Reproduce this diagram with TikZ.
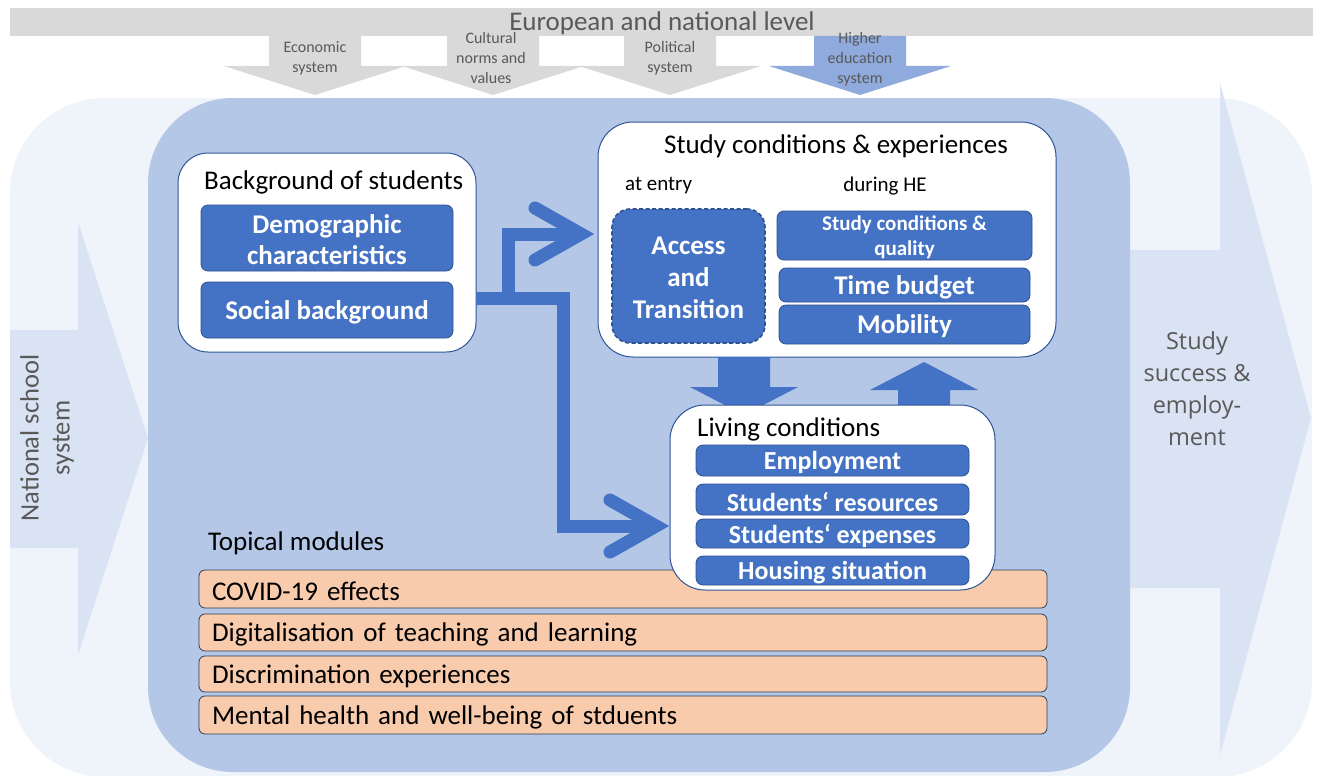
\documentclass[tikz,border=0pt]{standalone}
\usepackage{fontspec}
\setmainfont{Carlito}
\newfontfamily\osans{Open Sans}
\usetikzlibrary{calc}
\definecolor{outerbg}{HTML}{EFF3FA}
\definecolor{arrowbg}{HTML}{DAE3F3}
\definecolor{innerbg}{HTML}{B4C7E7}
\definecolor{boxblue}{HTML}{4472C4}
\definecolor{boxedge}{HTML}{2F528F}
\definecolor{darkedge}{HTML}{2F5597}
\definecolor{barg}{HTML}{D9D9D9}
\definecolor{heblue}{HTML}{8FAADC}
\definecolor{txtgray}{HTML}{595959}
\definecolor{orangefill}{HTML}{F8CBAD}
\definecolor{orangeedge}{HTML}{2E3B55}
\newcommand\fsz[2]{\fontsize{#1}{#2}\selectfont}
\newcommand\lowr[1]{\raisebox{-2pt}[\height][\depth]{#1}}
\begin{document}
\begin{tikzpicture}[x=1pt,y=-1pt,
  whitebox/.style={draw=darkedge, fill=white, line width=1pt, rounded corners=30pt, inner sep=0pt, outer sep=0pt},
  bluebox/.style={draw=boxedge, fill=boxblue, line width=0.8pt, rounded corners=7pt, inner sep=0pt, outer sep=0pt, text=white, align=center, font=\fsz{27}{31}\bfseries},
  orangebox/.style={draw=orangeedge, fill=orangefill, line width=0.8pt, rounded corners=6pt, inner xsep=13pt, inner ysep=0pt, text width=822pt, align=left, font=\fsz{27}{30}, text=black},
  title/.style={font=\fsz{27}{32}, text=black, inner sep=0pt},
  subtitle/.style={font=\fsz{21}{25}, text=black, inner sep=0pt},
  toplabel/.style={font=\fsz{16}{20}, text=txtgray, align=center, inner sep=0pt},
  conn/.style={draw=boxblue, line width=13pt, line join=miter},
  chev/.style={draw=boxblue, line width=13pt, line join=miter, line cap=round},
  blockarrow/.style={fill=boxblue}
]
\useasboundingbox (0,0) rectangle (1317,776);
% outer light region
\fill[outerbg, rounded corners=95pt] (10,98) rectangle (1312,777);
% left arrow
\fill[arrowbg] (10,330) -- (78,330) -- (78,222) -- (148,438) -- (78,655) -- (78,548) -- (10,548) -- cycle;
% right arrow
\fill[arrowbg] (1100,250) -- (1220,250) -- (1220,83) -- (1311,418) -- (1220,755) -- (1220,588) -- (1100,588) -- cycle;
% inner blue region
\fill[innerbg, rounded corners=85pt] (148,98) rectangle (1130,772);
% top bar
\fill[barg] (10,8) rectangle (1313,36);
\node[font=\fsz{27}{30}, text=txtgray, inner sep=0pt] (eur) at (662,23) {European and national level};
% top arrows
\foreach \c/\col in {315/barg, 493/barg, 670/barg, 860/heblue}
  \fill[\col] ({\c-46},36) -- ({\c+46},36) -- ({\c+46},66) -- ({\c+91},66) -- (\c,95) -- ({\c-91},66) -- ({\c-46},66) -- cycle;
\node[toplabel] (econ) at (315,58) {Economic\\system};
\node[toplabel] (cult) at (491,58) {Cultural\\norms and\\values};
\node[toplabel] (pol) at (670,58) {Political\\system};
\node[toplabel] (hes) at (860,59) {Higher\\education\\system};
% side labels
\node[rotate=90, font=\fsz{26.5}{31}, text=txtgray, align=center, inner sep=0pt] (nss) at (47,438) {National school\\system};
\node[font=\osans\fsz{23.5}{32}, text=txtgray, align=center, inner sep=0pt] (sse) at (1197,389) {Study\\success \&\\employ-\\ment};

% Background of students
\node[whitebox, minimum width=298pt, minimum height=199pt] (bg) at (327,252.5) {};
\node[title, anchor=west] (bgt) at (204,182) {Background of students};
\node[bluebox, minimum width=252pt, minimum height=66pt] (demo) at (327,238) {\lowr{Demographic}\\\lowr{characteristics}};
\node[bluebox, minimum width=252pt, minimum height=56pt] (soc) at (327,310) {\lowr{Social background}};

% Study conditions
\node[whitebox, rounded corners=35pt, minimum width=458pt, minimum height=235pt] (study) at (827,239.5) {};
\node[title] (studyt) at (836,146) {Study conditions \& experiences};
\node[subtitle, anchor=west] (entry) at (625,186) {at entry};
\node[subtitle] (during) at (885,186) {during HE};
\node[bluebox, rounded corners=18pt, dash pattern=on 4pt off 2.5pt, line width=1.6pt, font=\fsz{27}{32}\bfseries, minimum width=153pt, minimum height=134pt] (access) at (688.5,276) {\lowr{Access}\\\lowr{and}\\\lowr{Transition}};
\node[bluebox, font=\fsz{21}{25}\bfseries, minimum width=255pt, minimum height=49pt] (scq) at (904.5,235.5) {\lowr{Study conditions \&}\\\lowr{quality}};
\node[bluebox, minimum width=251pt, minimum height=34pt] (time) at (904.5,285) {\lowr{Time budget}};
\node[bluebox, minimum width=251pt, minimum height=39pt] (mob) at (904.5,324.5) {\lowr{Mobility}};

% connectors
\coordinate (j2) at (508,298);
\coordinate (j1) at (563,298);
\coordinate (utip) at (581,234);
\coordinate (ltip) at (656,526);
\draw[conn] (bg.east |- j1) -- (j1) |- (ltip);
\draw[conn] (j2) |- (utip);
\draw[chev] ($(utip)+(-46,-26)$) -- (utip) -- ($(utip)+(-46,26)$);
\draw[chev] ($(ltip)+(-46,-26)$) -- (ltip) -- ($(ltip)+(-46,26)$);

% block arrows between study and living
\fill[blockarrow] (718,357) -- (770,357) -- (770,387) -- (798,387) -- (744,415) -- (690,387) -- (718,387) -- cycle;
\fill[blockarrow] (898,410) -- (898,390) -- (870,390) -- (924,362) -- (978,390) -- (950,390) -- (950,410) -- cycle;

% topical modules
\node[title, anchor=west] (topt) at (208,543) {Topical modules};
\node[orangebox, minimum height=38pt] (covid) at (623,589) {\lowr{COVID-19 effects}};
\node[orangebox, minimum height=37pt] (digi) at (623,632.5) {\lowr{Digitalisation of teaching and learning}};
\node[orangebox, minimum height=36pt] (disc) at (623,674) {\lowr{Discrimination experiences}};
\node[orangebox, minimum height=38pt] (ment) at (623,715) {\lowr{Mental health and well-being of stduents}};

% Living conditions
\node[whitebox, rounded corners=35pt, minimum width=325pt, minimum height=185pt] (liv) at (832.5,497.5) {};
\node[title, anchor=west] (livt) at (697,429) {Living conditions};
\node[bluebox, font=\fsz{26}{30}\bfseries, minimum width=273pt, minimum height=31pt] (emp) at (832.5,460.5) {\lowr{Employment}};
\node[bluebox, font=\fsz{26}{30}\bfseries, minimum width=273pt, minimum height=31pt] (res) at (832.5,499.5) {\lowr{Students‘ resources}};
\node[bluebox, font=\fsz{26}{30}\bfseries, minimum width=273pt, minimum height=29pt] (exp) at (832.5,533.5) {\lowr{Students‘ expenses}};
\node[bluebox, font=\fsz{26}{30}\bfseries, minimum width=273pt, minimum height=29pt] (hous) at (832.5,570.5) {\lowr{Housing situation}};
\end{tikzpicture}
\end{document}
